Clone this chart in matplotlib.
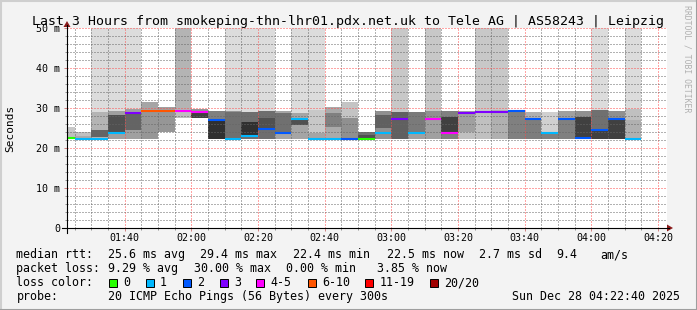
import matplotlib
matplotlib.use("Agg")
import matplotlib.pyplot as plt
from matplotlib.patches import Rectangle, Polygon
from matplotlib.lines import Line2D

W, H = 697, 310
plt.rcParams['font.family'] = ['DejaVu Sans Mono']

# one entry per 5 minute step (start of step)
seg_times = ["01:20", "01:25", "01:30", "01:35", "01:40", "01:45", "01:50", "01:55",
             "02:00", "02:05", "02:10", "02:15", "02:20", "02:25", "02:30", "02:35",
             "02:40", "02:45", "02:50", "02:55", "03:00", "03:05", "03:10", "03:15",
             "03:20", "03:25", "03:30", "03:35", "03:40", "03:45", "03:50", "03:55",
             "04:00", "04:05", "04:10"]
median_rtt = [22.4, 22.3, 22.3, 23.8, 28.75, 29.3, 29.3, 29.3, 29.1, 26.9,
              22.3, 23.1, 24.7, 23.75, 27.3, 22.3, 22.3, 22.3, 22.3, 23.75,
              27.3, 23.75, 27.3, 23.8, 28.8, 29.1, 29.1, 29.25, 27.3, 23.8,
              27.3, 22.6, 24.5, 27.3, 22.3]
lost_pings = [0, 1, 1, 1, 3, 6, 6, 4, 4, 2,
              1, 1, 2, 2, 1, 1, 1, 2, 0, 1,
              3, 1, 4, 4, 3, 3, 3, 2, 2, 1,
              2, 2, 2, 2, 1]
smoke_top = [25.3, 24.0, 28.9, 29.25, 29.75, 31.6, 30.2, 29.3, 29.75, 29.3,
             29.3, 29.0, 29.2, 29.3, 28.7, 29.5, 30.2, 31.6, 24.1, 29.3,
             29.0, 28.9, 29.3, 29.3, 29.3, 29.5, 29.5, 29.5, 29.0, 28.9,
             29.2, 29.3, 29.5, 29.3, 29.7]
smoke_bottom = [22.2, 22.2, 22.2, 22.2, 22.2, 22.2, 23.9, 27.4, 27.4, 22.2,
                22.2, 22.2, 22.2, 22.2, 22.2, 22.2, 22.2, 22.2, 22.2, 22.2,
                22.2, 22.2, 22.2, 22.2, 22.2, 22.2, 22.2, 22.2, 22.2, 22.2,
                22.2, 22.2, 22.2, 22.2, 22.2]
# pings beyond the 50 ms top: 0 none, 1 few, 2 more, 3 many
over_top = [0, 0, 1, 1, 1, 0, 0, 3, 0, 0,
            1, 1, 1, 0, 1, 1, 0, 0, 0, 0,
            2, 0, 2, 0, 0, 2, 2, 0, 0, 0,
            0, 0, 1, 0, 1]
outer_gray = [200, 192, 180, 160, 160, 165, 160, 195, 150, 128,
              150, 110, 110, 165, 165, 200, 170, 196, 112, 144,
              130, 122, 144, 128, 160, 200, 176, 144, 176, 208,
              160, 144, 112, 144, 192]
core_low = [22.2, 22.2, 22.8, 24.1, 24.5, 22.2, 23.9, 27.4, 27.6, 22.2,
            22.5, 23.25, 24.9, 24.1, 25.75, 22.4, 25.3, 22.6, 22.4, 24.9,
            22.2, 22.2, 22.2, 24.1, 22.2, 22.2, 22.2, 22.2, 22.2, 22.2,
            22.2, 22.8, 22.2, 22.2, 22.2]
core_high = [24.0, 23.0, 24.5, 28.2, 28.4, 29.3, 29.3, 29.3, 29.0, 26.8,
             29.0, 26.6, 27.4, 28.7, 27.0, 23.7, 28.7, 27.4, 23.25, 28.25,
             29.0, 23.6, 27.2, 27.8, 24.0, 29.0, 29.0, 29.0, 27.2, 23.6,
             27.2, 27.8, 24.5, 27.2, 27.0]
core_gray = [190, 170, 100, 80, 100, 150, 150, 190, 64, 48,
             112, 48, 80, 112, 80, 165, 128, 144, 80, 96,
             96, 160, 160, 64, 192, 192, 176, 128, 125, 128,
             128, 64, 64, 64, 176]

x_ticks = ["01:40", "02:00", "02:20", "02:40", "03:00", "03:20", "03:40", "04:00", "04:20"]
y_ticks = [0, 10, 20, 30, 40, 50]
y_labels = ["0", "10 m", "20 m", "30 m", "40 m", "50 m"]

loss_names = ["0", "1", "2", "3", "4-5", "6-10", "11-19", "20/20"]
loss_upper = [0, 1, 2, 3, 5, 10, 19, 20]
loss_colors = ["#26ff00", "#00b8ff", "#0059ff", "#7e00ff", "#ff00ff", "#ff5500", "#ff0000", "#a10000"]
over_colors = {1: "#dcdcdc", 2: "#c8c8c8", 3: "#b4b4b4"}


def mins(t):
    h, m = t.split(":")
    return int(h) * 60 + int(m)


def gray(v):
    return "#%02x%02x%02x" % (v, v, v)


def loss_color(n):
    for up, c in zip(loss_upper, loss_colors):
        if n <= up:
            return c
    return loss_colors[-1]


def fx(x):
    return x / W


def fy(y):
    return 1 - y / H


fig = plt.figure(figsize=(W / 100, H / 100), dpi=100)
fig.patch.set_facecolor("#f3f3f3")
ax = fig.add_axes([fx(67), fy(228), 600 / W, 200 / H])
ax.set_facecolor("white")

step = 5
for i, t in enumerate(seg_times):
    x0 = mins(t)
    if over_top[i]:
        ax.bar(x0, 50 - smoke_top[i], step, bottom=smoke_top[i], align="edge",
               color=over_colors[over_top[i]], lw=0, antialiased=False, zorder=1)
    ax.bar(x0, smoke_top[i] - smoke_bottom[i], step, bottom=smoke_bottom[i], align="edge",
           color=gray(outer_gray[i]), lw=0, antialiased=False, zorder=1.2)
    ax.bar(x0, core_high[i] - core_low[i], step, bottom=core_low[i], align="edge",
           color=gray(core_gray[i]), lw=0, antialiased=False, zorder=1.4)
    ax.hlines(median_rtt[i], x0, x0 + step, color=loss_color(lost_pings[i]),
              lw=1.5, zorder=3)

start = mins("01:22") + 40 / 60
ax.set_xlim(start, start + 180)
ax.set_ylim(0, 50)

ax.set_xticks([mins(t) for t in x_ticks])
ax.set_xticklabels(x_ticks)
ax.set_xticks(range(mins("01:25"), mins("04:25"), 5), minor=True)
ax.set_yticks(y_ticks)
ax.set_yticklabels(y_labels)
ax.set_yticks(range(0, 51, 2), minor=True)

ax.set_axisbelow(False)
ax.grid(which="major", color=(1, 0.3, 0.3, 0.4), linestyle=(0, (1, 2)), lw=0.72)
ax.grid(which="minor", color=(0.4, 0.4, 0.4, 0.28), linestyle=(0, (1, 2)), lw=0.72)
for s in ax.spines.values():
    s.set_visible(False)
ax.tick_params(which="major", length=2.2, width=0.7, color="#d08080", labelsize=7.2)
ax.tick_params(which="minor", length=1.5, width=0.7, color="#909090")
ax.tick_params(axis="x", pad=1.5)
ax.tick_params(axis="y", pad=2.9)

# axes with arrows like rrdtool
fig.add_artist(Line2D([fx(62), fx(669)], [fy(228), fy(228)], color="black", lw=0.8))
fig.add_artist(Line2D([fx(67), fx(67)], [fy(233), fy(25)], color="black", lw=0.8))
fig.add_artist(Polygon([(fx(667), fy(224.5)), (fx(667), fy(231.5)), (fx(673), fy(228))],
                       closed=True, color="#8b1a1a", lw=0))
fig.add_artist(Polygon([(fx(63.5), fy(27)), (fx(70.5), fy(27)), (fx(67), fy(21))],
                       closed=True, color="#8b1a1a", lw=0))

# frame
fig.add_artist(Line2D([0, 1], [fy(0.5), fy(0.5)], color="#cfcfcf", lw=1.5))
fig.add_artist(Line2D([fx(0.5), fx(0.5)], [0, 1], color="#cfcfcf", lw=1.5))
fig.add_artist(Line2D([0, 1], [fy(309.5), fy(309.5)], color="#9e9e9e", lw=1.5))
fig.add_artist(Line2D([fx(696.5), fx(696.5)], [0, 1], color="#9e9e9e", lw=1.5))

fig.text(fx(347.5), fy(24.5), "Last 3 Hours from smokeping-thn-lhr01.pdx.net.uk to Tele AG | AS58243 | Leipzig",
         ha="center", va="baseline", fontsize=9.5)
fig.text(fx(10), fy(128), "Seconds", rotation=90, ha="center", va="center", fontsize=8)
fig.text(fx(687), fy(5), "RRDTOOL / TOBI OETIKER", rotation=270, ha="center", va="top",
         fontsize=5.9, color="#b0b0b0")

fs = 8.4
rows = {
    258.3: [(16.4, "median rtt:"), (107.6, "25.6 ms avg"), (200.5, "29.4 ms max"),
            (293.3, "22.4 ms min"), (386.7, "22.5 ms now"), (479.1, "2.7 ms sd"),
            (556.0, "9.4"), (600, "am/s")],
    272.3: [(16.4, "packet loss:"), (107.6, "9.29 % avg"), (194.2, "30.00 % max"),
            (285.8, "0.00 % min"), (376.9, "3.85 % now")],
    286.3: [(16.4, "loss color:")],
    300.3: [(16.4, "probe:"), (107.6, "20 ICMP Echo Pings (56 Bytes) every 300s")],
}
for yb, items in rows.items():
    for x, s in items:
        fig.text(fx(x), fy(yb), s, ha="left", va="baseline", fontsize=fs)
fig.text(fx(680.5), fy(300.3), "Sun Dec 28 04:22:40 2025", ha="right", va="baseline", fontsize=fs)

box_x = [108.9, 145.8, 182.7, 219.6, 256.4, 307.6, 365.3, 430.2]
for bx, name, c in zip(box_x, loss_names, loss_colors):
    fig.add_artist(Rectangle((fx(bx), fy(286.5)), 8 / W, 8 / H, transform=fig.transFigure,
                             facecolor=c, edgecolor="black", lw=0.7))
    fig.text(fx(bx + 14.2), fy(286.3), name, ha="left", va="baseline", fontsize=fs)

fig.savefig("out.png", dpi=100, facecolor=fig.get_facecolor())
